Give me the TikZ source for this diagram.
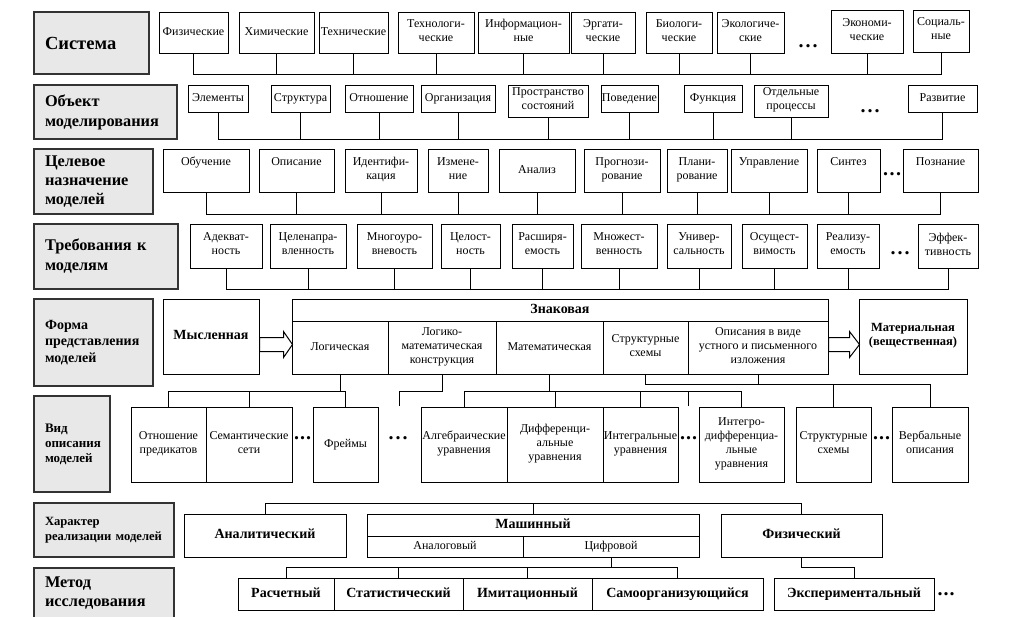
\documentclass[tikz,border=0pt]{standalone}
\usepackage{fontspec}
\setmainfont{Liberation Serif}
\usetikzlibrary{calc}
\tikzset{
    head-box/.style = {draw=black!80, fill=black!9, line width=1.4pt, rectangle, inner xsep=11pt, inner ysep=0pt, align=left},
    item-box/.style = {draw, fill=white, line width=1pt, rectangle, inner sep=0pt, align=center, font=\fontsize{12}{14}\selectfont, execute at begin node=\strut, execute at end node=\strut},
    bold-box/.style = {item-box, font=\fontsize{14}{16}\bfseries},
    more-dots/.style = {inner sep=0pt, anchor=base, font=\fontsize{20}{20}\bfseries},
    link/.style = {line width=1pt},
    block-arrow/.style = {draw, fill=white, line width=1pt, line join=miter},
}

\begin{document}
\begin{tikzpicture}[x=1pt, y=-1pt]
\useasboundingbox (0,0) rectangle (1009,616);

% headings on the left
\node[head-box, minimum height=62, text width=93, font=\fontsize{18.5}{20}\bfseries] (sys) at (91.5,43) {Система};
\node[head-box, minimum height=54, text width=121, font=\fontsize{16.3}{20}\bfseries] (obj) at (105.5,112) {Объект\\моделирования};
\node[head-box, minimum height=65, text width=97, font=\fontsize{16.3}{19}\bfseries] (goal) at (93.5,181.5) {Целевое\\назначение\\моделей};
\node[head-box, minimum height=65, text width=122, font=\fontsize{16.3}{20}\bfseries] (req) at (106,256.5) {Требования к\\моделям};
\node[head-box, minimum height=87, text width=97, font=\fontsize{14}{16.5}\bfseries] (form) at (93.5,342.5) {Форма\\представления\\моделей};
\node[head-box, minimum height=96, text width=54, font=\fontsize{13}{15}\bfseries] (kind) at (72,444) {Вид\\описания\\моделей};
\node[head-box, minimum height=54, text width=118, font=\fontsize{12.6}{15}\bfseries] (real) at (104,530) {Характер\\реализации моделей};
\node[head-box, minimum height=50, text width=118, font=\fontsize{16.3}{19}\bfseries] (meth) at (104,593) {Метод\\исследования};

% system
\node[item-box, minimum width=69, minimum height=41] (fiz) at (193.5,32.5) {Физические};
\node[item-box, minimum width=75, minimum height=41] (him) at (276.5,32.5) {Химические};
\node[item-box, minimum width=69, minimum height=41] (teh) at (353.5,32.5) {Технические};
\node[item-box, minimum width=76, minimum height=41] (tehn) at (436,32.5) {Технологи-\\ческие};
\node[item-box, minimum width=91, minimum height=41] (inf) at (523.5,32.5) {Информацион-\\ные};
\node[item-box, minimum width=64, minimum height=41] (erg) at (603,32.5) {Эргати-\\ческие};
\node[item-box, minimum width=66, minimum height=41] (bio) at (679,32.5) {Биологи-\\ческие};
\node[item-box, minimum width=67, minimum height=41] (eko) at (750.5,32.5) {Экологиче-\\ские};
\node[more-dots] (dots1) at (808,47) {.\hspace{2pt}.\hspace{2pt}.};
\node[item-box, minimum width=72, minimum height=43] (ekon) at (867,31.5) {Экономи-\\ческие};
\node[item-box, minimum width=56, minimum height=42] (soc) at (941,31) {Социаль-\\ные};
\coordinate (bus1) at (0,74);
\draw[link] (fiz.south) |- (soc.south |- bus1) -- (soc.south)
    (him.south) -- (him.south |- bus1)
    (teh.south) -- (teh.south |- bus1)
    (tehn.south) -- (tehn.south |- bus1)
    (inf.south) -- (inf.south |- bus1)
    (erg.south) -- (erg.south |- bus1)
    (bio.south) -- (bio.south |- bus1)
    (eko.south) -- (eko.south |- bus1)
    (ekon.south) -- (ekon.south |- bus1);

% object
\node[item-box, minimum width=60, minimum height=27] (elem) at (218,98.5) {Элементы};
\node[item-box, minimum width=59, minimum height=27] (struc) at (300.5,98.5) {Структура};
\node[item-box, minimum width=68, minimum height=27] (rel) at (379,98.5) {Отношение};
\node[item-box, minimum width=74, minimum height=27] (org) at (458,98.5) {Организация};
\node[item-box, minimum width=80, minimum height=32] (space) at (548,101) {Пространство\\состояний};
\node[item-box, minimum width=57, minimum height=27] (behav) at (629.5,98.5) {Поведение};
\node[item-box, minimum width=58, minimum height=27] (func) at (713,98.5) {Функция};
\node[item-box, minimum width=74, minimum height=32] (proc) at (791,101) {Отдельные\\процессы};
\node[more-dots] (dots2) at (870,112) {.\hspace{2pt}.\hspace{2pt}.};
\node[item-box, minimum width=69, minimum height=27] (devel) at (942.5,98.5) {Развитие};
\coordinate (bus2) at (0,139);
\draw[link] (elem.south) |- (devel.south |- bus2) -- (devel.south)
    (struc.south) -- (struc.south |- bus2)
    (rel.south) -- (rel.south |- bus2)
    (org.south) -- (org.south |- bus2)
    (space.south) -- (space.south |- bus2)
    (behav.south) -- (behav.south |- bus2)
    (func.south) -- (func.south |- bus2)
    (proc.south) -- (proc.south |- bus2);

% goal
\node[item-box, minimum width=86, minimum height=43] (teach) at (206,170.5) {Обучение\\\mbox{}};
\node[item-box, minimum width=75, minimum height=43] (descr) at (296.5,170.5) {Описание\\\mbox{}};
\node[item-box, minimum width=72, minimum height=43] (ident) at (381,170.5) {Идентифи-\\кация};
\node[item-box, minimum width=60, minimum height=43] (change) at (458,170.5) {Измене-\\ние};
\node[item-box, minimum width=76, minimum height=43] (anal) at (537,170.5) {Анализ};
\node[item-box, minimum width=76, minimum height=43] (forec) at (622,170.5) {Прогнози-\\рование};
\node[item-box, minimum width=60, minimum height=43] (plan) at (697,170.5) {Плани-\\рование};
\node[item-box, minimum width=76, minimum height=43] (contr) at (769,170.5) {Управление\\\mbox{}};
\node[item-box, minimum width=63, minimum height=43] (synth) at (848.5,170.5) {Синтез\\\mbox{}};
\node[more-dots] (dots3) at (892,175) {.\hspace{1.5pt}.\hspace{1.5pt}.};
\node[item-box, minimum width=75, minimum height=43] (cogn) at (940.5,170.5) {Познание\\\mbox{}};
\coordinate (bus3) at (0,214);
\draw[link] (teach.south) |- (cogn.south |- bus3) -- (cogn.south)
    (descr.south) -- (descr.south |- bus3)
    (ident.south) -- (ident.south |- bus3)
    (change.south) -- (change.south |- bus3)
    (anal.south) -- (anal.south |- bus3)
    (forec.south) -- (forec.south |- bus3)
    (plan.south) -- (plan.south |- bus3)
    (contr.south) -- (contr.south |- bus3)
    (synth.south) -- (synth.south |- bus3);

% requirements
\node[item-box, minimum width=72, minimum height=44] (adeq) at (226,246) {Адекват-\\ность};
\node[item-box, minimum width=76, minimum height=44] (purp) at (308,246) {Целенапра-\\вленность};
\node[item-box, minimum width=75, minimum height=44] (multi) at (394.5,246) {Многоуро-\\вневость};
\node[item-box, minimum width=59, minimum height=44] (integr) at (470.5,246) {Целост-\\ность};
\node[item-box, minimum width=61, minimum height=44] (ext) at (542.5,246) {Расширя-\\емость};
\node[item-box, minimum width=76, minimum height=44] (plur) at (619,246) {Множест-\\венность};
\node[item-box, minimum width=64, minimum height=44] (univ) at (699,246) {Универ-\\сальность};
\node[item-box, minimum width=65, minimum height=44] (feas) at (774.5,246) {Осущест-\\вимость};
\node[item-box, minimum width=62, minimum height=44] (impl) at (848,246) {Реализу-\\емость};
\node[more-dots] (dots4) at (900,254) {.\hspace{2pt}.\hspace{2pt}.};
\node[item-box, minimum width=60, minimum height=44] (eff) at (948,246) {Эффек-\\тивность};
\coordinate (bus4) at (0,289);
\draw[link] (adeq.south) |- (eff.south |- bus4) -- (eff.south)
    (purp.south) -- (purp.south |- bus4)
    (multi.south) -- (multi.south |- bus4)
    (integr.south) -- (integr.south |- bus4)
    (ext.south) -- (ext.south |- bus4)
    (plur.south) -- (plur.south |- bus4)
    (univ.south) -- (univ.south |- bus4)
    (feas.south) -- (feas.south |- bus4)
    (impl.south) -- (impl.south |- bus4);

% form of representation
\node[bold-box, minimum width=96, minimum height=75] (mind) at (211,336.5) {Мысленная};
\node[bold-box, minimum width=536, minimum height=22] (sign) at (560,310) {Знаковая};
\node[item-box, minimum width=96, minimum height=53] (logic) at (340,347.5) {Логическая};
\node[item-box, minimum width=108, minimum height=53] (logmat) at (442,347.5) {Логико-\\математическая\\конструкция};
\node[item-box, minimum width=107, minimum height=53] (math) at (549.5,347.5) {Математическая};
\node[item-box, minimum width=85, minimum height=53] (scheme) at (645.5,347.5) {Структурные\\схемы};
\node[item-box, minimum width=140, minimum height=53] (verbal) at (758,347.5) {Описания в виде\\устного и письменного\\изложения};
\node[item-box, minimum width=108, minimum height=75, font=\fontsize{12.5}{14}\bfseries] (mater) at (913,336.5) {Материальная\\(вещественная)};
\draw[block-arrow] ([yshift=-1pt]mind.east) -- ++(24,0) -- ++(0,-6) -- ++(9,13) -- ++(-9,13) -- ++(0,-6) -- ++(-24,0) -- cycle;
\draw[block-arrow] ([yshift=10pt]verbal.east) -- ++(21,0) -- ++(0,-6) -- ++(10,13) -- ++(-10,13) -- ++(0,-6) -- ++(-21,0) -- cycle;

% kind of description
\node[item-box, minimum width=75, minimum height=75] (pred) at (168.5,444.5) {Отношение\\предикатов};
\node[item-box, minimum width=86, minimum height=75] (sem) at (249,444.5) {Семантические\\сети};
\node[more-dots] (dots5) at (302.5,439) {.\hspace{1pt}.\hspace{1pt}.};
\node[item-box, minimum width=65, minimum height=75] (frame) at (345.5,444.5) {Фреймы};
\node[more-dots] (dots6) at (398,439) {.\hspace{2pt}.\hspace{2pt}.};
\node[item-box, minimum width=86, minimum height=75] (alg) at (464,444.5) {Алгебраические\\уравнения};
\node[item-box, minimum width=96, minimum height=75] (diff) at (555,444.5) {Дифференци-\\альные\\уравнения};
\node[item-box, minimum width=75, minimum height=75] (integ) at (640.5,444.5) {Интегральные\\уравнения};
\node[more-dots] (dots7) at (688.5,439) {.\hspace{1pt}.\hspace{1pt}.};
\node[item-box, minimum width=85, minimum height=75] (intdiff) at (741.5,444.5) {Интегро-\\дифференциа-\\льные\\уравнения};
\node[item-box, minimum width=75, minimum height=75] (schemes) at (833.5,444.5) {Структурные\\схемы};
\node[more-dots] (dots8) at (881.5,439) {.\hspace{1pt}.\hspace{1pt}.};
\node[item-box, minimum width=76, minimum height=75] (verbs) at (930,444.5) {Вербальные\\описания};
\coordinate (bus-log) at (0,391);
\coordinate (bus-str) at (0,384);
\coordinate (logmat-end) at (399,406);
\coordinate (math-end) at (688,406);
\draw[link] (logic.south) -- (logic.south |- bus-log)
    (pred.north) |- (frame.north |- bus-log) -- (frame.north)
    (sem.north) -- (sem.north |- bus-log);
\draw[link] (logmat.south) -- (logmat.south |- bus-log) -| (logmat-end);
\draw[link] (math.south) -- (math.south |- bus-log)
    (alg.north) |- (intdiff.north |- bus-log) -- (intdiff.north)
    (diff.north) -- (diff.north |- bus-log)
    (integ.north) -- (integ.north |- bus-log)
    (math-end) -- (math-end |- bus-log);
\draw[link] (scheme.south) |- (verbs.north |- bus-str) -- (verbs.north)
    (verbal.south) -- (verbal.south |- bus-str)
    (schemes.north) -- (schemes.north |- bus-str);

% realisation
\node[bold-box, minimum width=162, minimum height=43] (analit) at (265,535.5) {Аналитический};
\node[bold-box, minimum width=332, minimum height=22] (machine) at (533,525) {Машинный};
\node[item-box, minimum width=156, minimum height=21] (analog) at (445,546.5) {Аналоговый};
\node[item-box, minimum width=176, minimum height=21] (digit) at (611,546.5) {Цифровой};
\node[bold-box, minimum width=161, minimum height=43] (phys) at (801.5,535.5) {Физический};
\coordinate (bus-real) at (0,503);
\draw[link] (analit.north) |- (phys.north |- bus-real) -- (phys.north)
    (machine.north) -- (machine.north |- bus-real);

% method
\node[bold-box, minimum width=96, minimum height=32] (calc) at (286,594) {Расчетный};
\node[bold-box, minimum width=129, minimum height=32] (stat) at (398.5,594) {Статистический};
\node[bold-box, minimum width=129, minimum height=32] (simul) at (527.5,594) {Имитационный};
\node[bold-box, minimum width=171, minimum height=32] (selforg) at (677.5,594) {Самоорганизующийся};
\node[bold-box, minimum width=160, minimum height=32] (exper) at (854,594) {Экспериментальный};
\node[more-dots] (dots9) at (946,595) {.\hspace{1pt}.\hspace{1pt}.};
\coordinate (bus-meth) at (0,567);
\draw[link] (digit.south) -- (digit.south |- bus-meth)
    (calc.north) |- (selforg.north |- bus-meth) -- (selforg.north)
    (stat.north) -- (stat.north |- bus-meth)
    (simul.north) -- (simul.north |- bus-meth);
\draw[link] (phys.south) |- (exper.north |- bus-meth) -- (exper.north);
\end{tikzpicture}
\end{document}
